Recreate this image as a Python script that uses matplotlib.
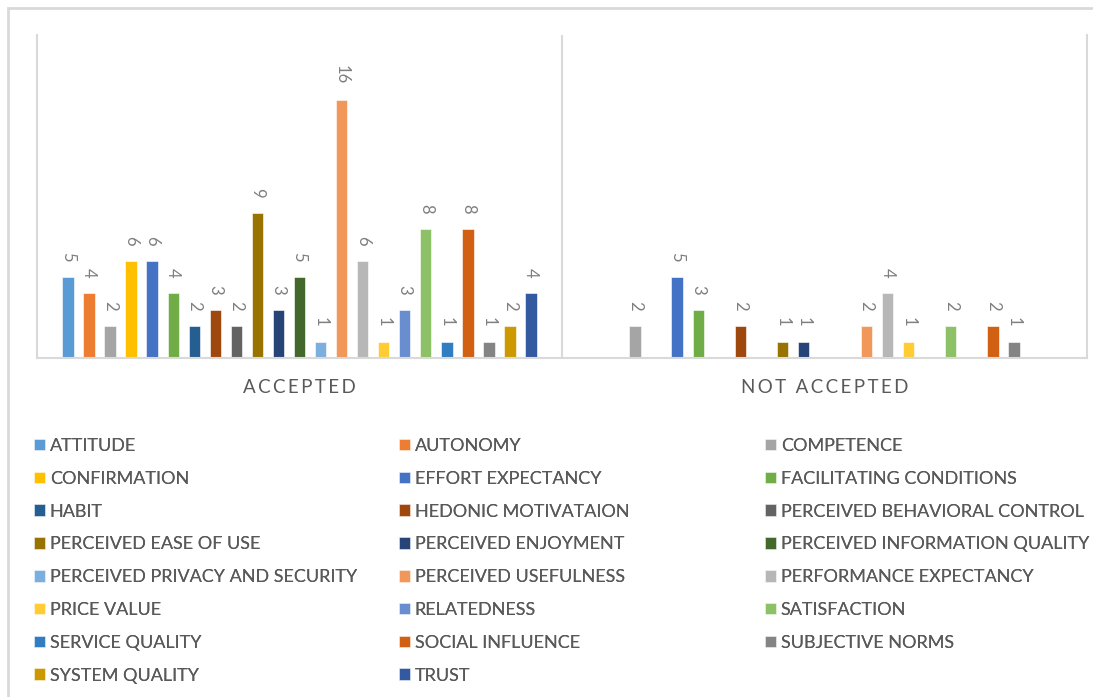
import numpy as np
import matplotlib.pyplot as plt
from matplotlib.patches import Rectangle

# factors and counts
factors = ["ATTITUDE", "AUTONOMY", "COMPETENCE", "CONFIRMATION", "EFFORT EXPECTANCY",
           "FACILITATING CONDITIONS", "HABIT", "HEDONIC MOTIVATAION",
           "PERCEIVED BEHAVIORAL CONTROL", "PERCEIVED EASE OF USE", "PERCEIVED ENJOYMENT",
           "PERCEIVED INFORMATION QUALITY", "PERCEIVED PRIVACY AND SECURITY",
           "PERCEIVED USEFULNESS", "PERFORMANCE EXPECTANCY", "PRICE VALUE", "RELATEDNESS",
           "SATISFACTION", "SERVICE QUALITY", "SOCIAL INFLUENCE", "SUBJECTIVE NORMS",
           "SYSTEM QUALITY", "TRUST"]
categories = ["ACCEPTED", "NOT ACCEPTED"]
accepted = [5, 4, 2, 6, 6, 4, 2, 3, 2, 9, 3, 5, 1, 16, 6, 1, 3, 8, 1, 8, 1, 2, 4]
not_accepted = [0, 0, 2, 0, 5, 3, 0, 2, 0, 1, 1, 0, 0, 2, 4, 1, 0, 2, 0, 2, 1, 0, 0]
colors = ["#5B9BD5", "#ED7D31", "#A5A5A5", "#FFC000", "#4472C4", "#70AD47", "#255E91",
          "#9E480E", "#636363", "#997300", "#264478", "#43682B", "#7CAFDD", "#F1975A",
          "#B7B7B7", "#FFCD33", "#698ED0", "#8CC168", "#327DC2", "#D26012", "#848484",
          "#CC9A00", "#335AA1"]

FONT = ["Lato", "DejaVu Sans"]
TXT = "#595959"
GRID = "#D9D9D9"

fig = plt.figure(figsize=(10.93, 6.97), dpi=100)
ax = fig.add_axes([37 / 1093, 1 - 358 / 697, 1050 / 1093, 323 / 697])

x = np.arange(len(categories))
step = 0.0401
width = 0.0215
handles = []
for i, name in enumerate(factors):
    vals = [accepted[i], not_accepted[i]]
    bars = ax.bar(x + (i - 11) * step, vals, width, color=colors[i], label=name,
                  edgecolor="white", linewidth=0.4)
    ax.bar_label(bars, labels=[str(v) if v else "" for v in vals], padding=11,
                 rotation=270, fontsize=12, color="#7F7F7F", family=FONT)
    handles.append(bars)

ax.set_xlim(-0.5, 1.5)
ax.set_ylim(0, 20)
ax.set_yticks([])
ax.set_xticks(x, ["\u2009".join(c) for c in categories])
ax.tick_params(axis="x", length=0, pad=15, labelsize=13.5, labelcolor=TXT)
for lab in ax.get_xticklabels():
    lab.set_family(FONT)
ax.axvline(0.5, color=GRID, lw=1.5)
ax.spines["top"].set_visible(False)
for s in ["left", "right", "bottom"]:
    ax.spines[s].set_color(GRID)
    ax.spines[s].set_linewidth(1.5)

# legend in three columns, filled row by row
col_x = [34 / 1093, 399 / 1093, 765 / 1093]
for c in range(3):
    leg = fig.legend(handles[c::3], factors[c::3], loc="upper left",
                     bbox_to_anchor=(col_x[c], 1 - 438 / 697), ncol=1, frameon=False,
                     prop={"family": FONT, "size": 13}, labelcolor=TXT,
                     handlelength=0.62, handleheight=0.62, handletextpad=0.25,
                     labelspacing=0.93, borderaxespad=0, borderpad=0)
    fig.add_artist(leg)

# chart area frame
fig.add_artist(Rectangle((8 / 1093, -0.5), 2, 0.5 + 1 - 8 / 697, transform=fig.transFigure,
                         fill=False, edgecolor=GRID, lw=2))

fig.savefig("out.png", dpi=100)
